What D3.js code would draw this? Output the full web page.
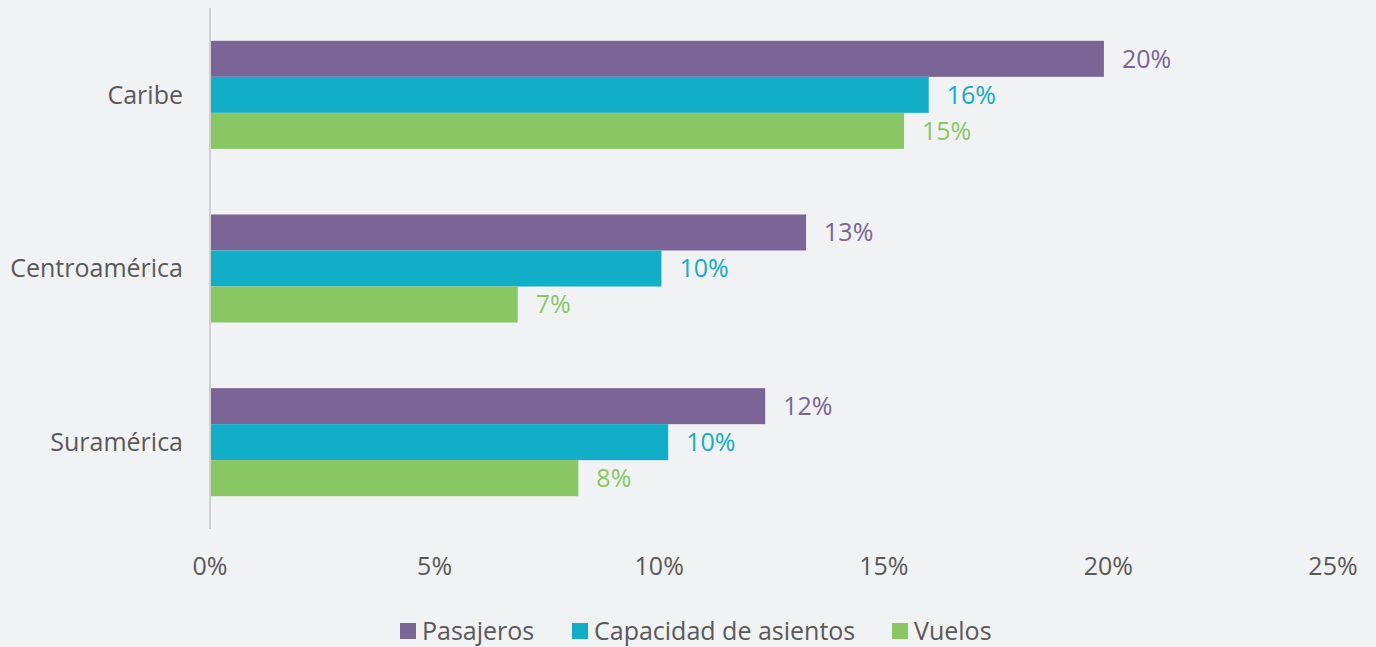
<!DOCTYPE html>
<html>
<head>
<meta charset="utf-8">
<script src="https://cdn.jsdelivr.net/npm/d3@7"></script>
<style>
  body { margin: 0; background: #f1f2f4; }
  svg { display: block; font-family: "Open Sans", sans-serif; }
</style>
</head>
<body>
<div id="chart"></div>
<script>
var regions = ["Caribe", "Centroamérica", "Suramérica"];
var series = ["Pasajeros", "Capacidad de asientos", "Vuelos"];
var colors = ["#7a6596", "#12adc6", "#88c764"];

// values in percent
var pasajeros = [19.9, 13.27, 12.36];
var capacidad = [16.0, 10.05, 10.2];
var vuelos = [15.45, 6.85, 8.2];
var labels = [["20%", "16%", "15%"], ["13%", "10%", "7%"], ["12%", "10%", "8%"]];
var xTicks = [0, 5, 10, 15, 20, 25];

var width = 1376, height = 647;
var margin = {left: 210, right: 43, top: 8, bottom: 118};

var svg = d3.select("#chart")
    .append("svg")
    .attr("width", width)
    .attr("height", height);

svg.append("rect")
    .attr("width", width)
    .attr("height", height)
    .attr("fill", "#f1f2f4");

var x = d3.scaleLinear().domain([0, 25]).range([margin.left, width - margin.right]);
var y = d3.scaleBand().domain(regions)
    .range([margin.top, height - margin.bottom])
    .paddingInner(0.378)
    .paddingOuter(0.189);
var ySub = d3.scaleBand().domain(series).range([0, y.bandwidth()]);

var rows = regions.map(function(r, i){
    return {region: r, values: [pasajeros[i], capacidad[i], vuelos[i]], labels: labels[i]};
});

var groups = svg.selectAll(".group")
    .data(rows)
    .enter()
    .append("g")
    .attr("class", "group")
    .attr("transform", function(d){ return "translate(0," + y(d.region) + ")"; });

groups.selectAll("rect")
    .data(function(d){ return d.values.map(function(v, j){ return {v: v, s: series[j], j: j}; }); })
    .enter()
    .append("rect")
    .attr("x", x(0) + 1)
    .attr("y", function(d){ return ySub(d.s); })
    .attr("width", function(d){ return x(d.v) - x(0) - 1; })
    .attr("height", ySub.bandwidth())
    .attr("fill", function(d){ return colors[d.j]; });

groups.selectAll(".val")
    .data(function(d){ return d.values.map(function(v, j){ return {v: v, s: series[j], j: j, t: d.labels[j]}; }); })
    .enter()
    .append("text")
    .attr("class", "val")
    .attr("x", function(d){ return x(d.v) + 18; })
    .attr("y", function(d){ return ySub(d.s) + ySub.bandwidth() / 2; })
    .attr("dy", "0.35em")
    .attr("font-size", "25px")
    .attr("fill", function(d){ return colors[d.j]; })
    .text(function(d){ return d.t; });

// category axis
svg.append("line")
    .attr("x1", x(0)).attr("x2", x(0))
    .attr("y1", margin.top).attr("y2", height - margin.bottom)
    .attr("stroke", "#d0d0d0")
    .attr("stroke-width", 2);

svg.selectAll(".cat")
    .data(regions)
    .enter()
    .append("text")
    .attr("class", "cat")
    .attr("x", x(0) - 27)
    .attr("y", function(d){ return y(d) + y.bandwidth() / 2; })
    .attr("dy", "0.35em")
    .attr("text-anchor", "end")
    .attr("font-size", "25px")
    .attr("fill", "#595959")
    .text(function(d){ return d; });

// value axis labels
svg.selectAll(".tick")
    .data(xTicks)
    .enter()
    .append("text")
    .attr("class", "tick")
    .attr("x", function(d){ return x(d); })
    .attr("y", 566)
    .attr("dy", "0.35em")
    .attr("text-anchor", "middle")
    .attr("font-size", "25px")
    .attr("fill", "#595959")
    .text(function(d){ return d + "%"; });

// legend
var legendX = [400, 572, 892];
var legend = svg.selectAll(".legend")
    .data(series)
    .enter()
    .append("g")
    .attr("class", "legend")
    .attr("transform", function(d, i){ return "translate(" + legendX[i] + ",631)"; });
legend.append("rect")
    .attr("x", 0).attr("y", -8)
    .attr("width", 16).attr("height", 16)
    .attr("fill", function(d, i){ return colors[i]; });
legend.append("text")
    .attr("x", 22)
    .attr("dy", "0.35em")
    .attr("font-size", "25px")
    .attr("fill", "#595959")
    .text(function(d){ return d; });
</script>
</body>
</html>
